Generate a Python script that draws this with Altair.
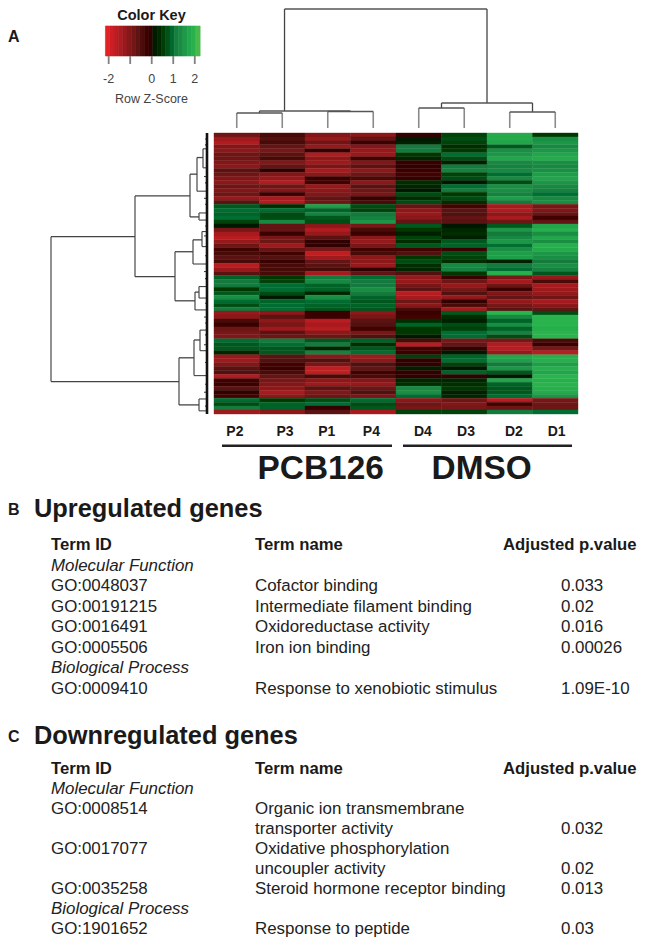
import altair as alt
import pandas as pd

samples = ["P2", "P3", "P1", "P4", "D4", "D3", "D2", "D1"]

block_a = [
 [-0.9,-0.5,-1.1,-1.2,-0.2,0.5,1.7,0.4],[-1.4,-0.6,-1.3,-0.8,0.0,0.6,1.7,1.3],[-1.6,-0.5,-0.9,-0.3,0.1,0.5,1.6,1.4],
 [-1.1,-0.8,-1.3,-1.1,1.0,0.3,0.7,1.2],[-1.2,-1.0,-0.1,-1.3,1.0,0.4,1.3,1.4],[-0.9,-0.7,-1.6,-1.3,0.4,0.9,1.4,1.6],
 [-0.9,-0.5,-1.2,-0.4,0.2,0.6,1.6,1.7],[-1.1,-1.1,-1.4,-1.1,-0.2,0.1,1.2,1.3],[-1.2,-0.8,-1.0,-0.7,-0.1,1.0,1.1,1.2],
 [-0.7,-0.1,-1.5,-1.2,-0.2,1.1,1.2,1.3],[-0.9,-1.1,-1.2,-0.9,-0.4,0.5,0.9,1.5],[-1.1,-1.3,-0.3,-0.5,-0.2,0.6,1.2,1.6],
 [-1.2,-1.6,-0.4,-1.2,0.3,0.0,0.6,1.4],[-0.9,-0.9,-1.3,-0.7,0.2,0.9,1.3,1.2],[-1.1,-1.1,-1.2,-0.9,0.0,1.0,1.3,1.1],
 [-0.9,-0.3,-1.1,-1.0,0.6,0.4,1.1,0.9],[-1.3,-1.5,-0.8,-0.3,0.3,0.6,1.5,1.2],[-0.7,-1.6,-0.9,-0.5,0.6,0.3,1.0,1.3],
]
block_b = [
 [0.7,0.3,1.5,0.6,-0.8,-0.4,-1.5,-1.0],[0.9,0.9,0.8,0.5,-1.2,-0.7,-1.6,-1.1],[0.8,0.6,1.1,1.0,-1.3,-0.6,-1.2,-0.8],
 [0.9,0.6,0.7,1.1,-1.2,-0.8,-1.5,-0.4],[0.5,1.2,0.6,1.4,-0.8,-0.7,-0.9,-0.8],
]
block_c = [
 [0.0,-0.8,-1.2,-1.0,0.7,0.0,0.7,1.6],[-1.0,-0.8,-1.6,-0.5,0.4,0.2,1.4,1.8],[-1.5,-0.3,-1.3,-0.3,0.1,0.3,1.0,1.3],
 [-1.7,-1.0,-0.7,-1.2,0.5,0.1,1.2,1.6],[-1.3,-0.9,-0.1,-1.3,0.3,0.7,1.4,1.3],[-0.9,-1.4,-0.1,-1.0,0.7,0.8,0.9,1.8],
 [-0.4,-0.8,-1.0,-0.4,-0.4,-0.3,1.3,1.7],[-0.5,-0.4,-1.8,-0.5,-0.6,0.6,1.5,1.4],[-0.7,-0.6,-1.4,-1.2,0.4,0.5,1.5,1.3],
 [-0.5,-0.3,-0.8,-1.2,0.6,0.3,0.1,1.0],[-1.7,-0.5,-0.7,-1.3,0.3,1.2,1.0,1.3],[-1.3,-0.5,-0.5,-0.1,0.2,1.1,0.9,1.1],
 [-0.7,-0.5,-1.5,-0.8,-0.6,0.4,1.8,0.7],
]
block_d = [
 [0.8,0.4,1.0,0.9,-1.3,-0.3,-1.0,-1.3],[1.0,0.5,1.2,1.0,-1.3,-0.9,-1.5,-0.5],[1.0,0.9,0.8,1.0,-1.0,-1.3,-0.9,-1.5],
 [0.4,0.9,0.8,1.3,-0.7,-1.0,-0.3,-1.4],[0.7,0.6,0.2,1.0,-1.7,-0.6,-1.1,-1.3],[1.3,0.0,1.3,0.8,-1.5,-1.3,-0.8,-0.9],
 [0.9,0.8,0.9,0.7,-0.9,-0.1,-1.3,-1.5],[0.6,0.9,0.8,0.8,-1.2,-0.5,-1.0,-1.2],[1.0,0.9,0.7,0.7,-0.5,-1.5,-0.7,-0.8],
]
block_e = [
 [-1.3,-1.2,-0.3,-1.2,-0.3,0.7,1.9,0.6],[-1.2,-0.7,-0.3,-1.0,-0.4,0.3,1.2,1.9],[-0.5,-1.2,-1.7,-0.7,0.3,0.1,0.8,1.9],
 [-0.3,-1.0,-1.5,-0.6,0.8,0.6,1.3,1.9],[-0.9,-1.4,-1.7,-0.4,0.4,0.5,0.8,1.8],[-1.0,-0.7,-1.2,-1.0,0.4,0.9,1.1,1.9],
 [-1.1,-0.9,-0.9,-0.6,0.0,0.9,0.6,1.9],
]
block_f = [
 [0.9,1.0,0.7,0.8,-0.5,-1.0,-1.0,-0.5],[0.7,0.9,1.0,0.3,-1.7,-0.8,-1.6,-0.3],[0.7,0.7,0.2,0.7,-0.4,-0.2,-1.7,-1.0],
 [0.2,0.7,1.1,0.9,-0.3,0.0,-1.3,-1.7],
]
block_g = [
 [-1.3,-0.7,-1.2,-1.4,0.5,0.8,1.6,1.8],[-1.4,-0.6,-0.6,-1.2,-0.1,0.9,1.5,1.8],[-1.1,-0.4,-1.0,-0.6,-0.1,0.5,1.0,1.5],
 [-0.7,-0.3,-1.8,-0.8,0.1,0.0,1.4,1.8],[-0.6,-0.5,-1.8,-0.4,-0.1,0.8,0.7,1.6],[-1.6,-0.8,-0.5,-0.5,-0.1,-0.1,0.0,1.9],
 [-0.4,-1.0,-1.2,-1.1,0.2,0.2,1.6,1.8],[-0.3,-1.1,-1.4,-1.3,0.3,0.3,0.8,1.9],[-0.7,-1.2,-0.7,-0.9,1.2,0.4,0.7,1.8],
 [-0.1,-1.5,-1.1,-0.6,1.3,0.1,0.7,1.7],[-0.4,-1.2,-0.9,-1.0,0.9,0.2,0.9,1.4],
]
block_h = [
 [0.9,0.4,0.6,0.9,-1.2,-0.9,-1.7,-1.0],[0.6,0.8,0.9,0.6,-0.9,-1.1,-0.4,-0.9],[1.0,0.8,-0.2,0.7,-1.0,-1.0,-0.9,-0.9],
 [-1.4,-1.2,-0.7,-1.5,0.5,0.5,1.0,0.9],
]

# column dendrogram: sample-axis position and merge height
col_stems_x = [0.5, 1.5, 2.5, 3.5, 4.5, 5.5, 6.5, 7.5]
col_stems_top = [15, 15, 16.5, 16.5, 20, 20, 16, 16]
col_bar_left = [0.5, 2.5, 1.0, 4.5, 6.5, 5.0, 1.55]
col_bar_right = [1.5, 3.5, 3.0, 5.5, 7.5, 7.0, 6.0]
col_bar_h = [15, 16.5, 17, 20, 16, 25, 119]
col_link_x = [1.0, 3.0, 5.0, 7.0, 1.55, 6.0]
col_link_lo = [15, 16.5, 20, 16, 17, 25]
col_link_hi = [17, 17, 25, 25, 119, 119]

# row dendrogram: depth and row position
row_node_d = [156, 72, 28, 17, 32, 10, 8, 4, 14, 12, 5, 8, 13, 8, 7]
row_node_r0 = [26.2, 15.9, 56.8, 10.4, 30, 6.2, 20.2, 4, 27, 40.2, 24.9, 38.8, 52.3, 67.2, 49.8]
row_node_r1 = [62.8, 36.3, 68.7, 21.2, 42.4, 14.7, 22, 8.8, 33.1, 44.7, 28.7, 41.7, 61.3, 70.2, 55]
row_link_child = [72, 28, 17, 32, 10, 8, 4, 14, 12, 5, 8, 13, 8, 7]
row_link_parent = [156, 156, 72, 72, 17, 17, 10, 32, 32, 14, 12, 28, 28, 13]
row_link_r = [26.2, 62.8, 15.9, 36.3, 10.4, 21.2, 6.2, 30, 42.4, 27, 40.2, 56.8, 68.7, 52.3]
row_leaf_d = [10, 8, 8, 4, 4, 14, 12, 5, 5, 8, 8, 13, 8, 8, 7, 7,
              2, 2, 3, 2, 3, 2, 2, 3, 2, 3, 2, 2, 3, 2, 2, 3, 2, 2, 3, 2]
row_leaf_r = [14.7, 20.2, 22, 4, 8.8, 33.1, 44.7, 24.9, 28.7, 38.8, 41.7, 61.3, 67.2, 70.2, 49.8, 55,
              1.5, 3, 11, 12.6, 16.5, 18, 23.5, 26, 31, 35, 36.8, 43, 46.5, 48, 51, 53.5, 58, 63.5, 65.5, 69]

key_bins = [-2.15, -1.95, -1.75, -1.55, -1.35, -1.15, -0.95, -0.75, -0.55, -0.35, -0.15, 0.05,
            0.25, 0.45, 0.65, 0.85, 1.05, 1.25, 1.45, 1.65, 1.85, 2.05]
key_ticks = [-2, -1, 0, 1, 2]
key_labels = ["-2", "0", "1", "2"]
key_label_z = [-2, 0, 1, 2]

group_names = ["PCB126", "DMSO"]

b_ids = ["Term ID", "", "GO:0048037", "GO:00191215", "GO:0016491", "GO:0005506", "", "GO:0009410"]
b_terms = ["Term name", "", "Cofactor binding", "Intermediate filament binding", "Oxidoreductase activity",
           "Iron ion binding", "", "Response to xenobiotic stimulus"]
b_pvals = ["", "", "0.033", "0.02", "0.016", "0.00026", "", "1.09E-10"]
b_sections = ["", "Molecular Function", "", "", "", "", "Biological Process", ""]

c_ids = ["Term ID", "", "GO:0008514", "", "GO:0017077", "", "GO:0035258", "", "GO:1901652"]
c_terms = ["Term name", "", "Organic ion transmembrane", "transporter activity", "Oxidative phosphorylation",
           "uncoupler activity", "Steroid hormone receptor binding", "", "Response to peptide"]
c_pvals = ["", "", "", "0.032", "", "0.02", "0.013", "", "0.03"]
c_sections = ["", "Molecular Function", "", "", "", "", "", "Biological Process", ""]

FONT = "Liberation Sans"
COLOR_SCALE = alt.Scale(domain=[-2.15, -1.3, -0.6, 0, 1, 1.6, 1.95, 2.15],
                        range=["#e02126", "#96191c", "#501210", "#000000", "#157a3d", "#22a54b", "#2cb64f", "#5ebb4a"])

all_rows = block_a + block_b + block_c + block_d + block_e + block_f + block_g + block_h
heat = pd.DataFrame([{"row": r, "sample": s, "z": v}
                     for r, vals in enumerate(all_rows) for s, v in zip(samples, vals)])

n_rows = len(all_rows)
ROW_SCALE = alt.Scale(domain=[0, n_rows], range=[125, 406])
DEPTH_SCALE = alt.Scale(domain=[0, 160], range=[199, 39])
COL_SCALE = alt.Scale(domain=[0, 8], range=[206, 570])
H_SCALE = alt.Scale(domain=[0, 119], range=[120, 1])
KEY_SCALE = alt.Scale(domain=[-2.17, 2.15], range=[97, 190])


def xq(f, scale):
    return alt.X(f, type="quantitative", scale=scale, axis=None)


def yq(f, scale):
    return alt.Y(f, type="quantitative", scale=scale, axis=None)


heatmap = alt.Chart(heat).mark_rect(strokeWidth=0.4).encode(
    x=alt.X("sample:N", sort=samples, axis=None,
            scale=alt.Scale(domain=samples, range=[206, 570], padding=0)),
    y=alt.Y("row:O", axis=None,
            scale=alt.Scale(domain=list(range(n_rows)), range=[125, 406], padding=0)),
    color=alt.Color("z:Q", scale=COLOR_SCALE, legend=None),
    stroke=alt.Stroke("z:Q", scale=COLOR_SCALE, legend=None),
)

col_stems = alt.Chart(pd.DataFrame({"x": col_stems_x, "top": col_stems_top, "lo": [0] * 8})).mark_rule(
    color="#8a8a8a", strokeWidth=1.6).encode(x=xq("x", COL_SCALE), y=yq("lo", H_SCALE), y2="top")
col_links = alt.Chart(pd.DataFrame({"x": col_link_x, "lo": col_link_lo, "hi": col_link_hi})).mark_rule(
    color="#444444", strokeWidth=1.3).encode(x=xq("x", COL_SCALE), y=yq("lo", H_SCALE), y2="hi")
col_bars = alt.Chart(pd.DataFrame({"l": col_bar_left, "r": col_bar_right, "h": col_bar_h})).mark_rule(
    color="#555555", strokeWidth=1.3).encode(x=xq("l", COL_SCALE), x2="r", y=yq("h", H_SCALE))

row_nodes = alt.Chart(pd.DataFrame({"d": row_node_d, "a": row_node_r0, "b": row_node_r1})).mark_rule(
    color="#555555", strokeWidth=1.3).encode(x=xq("d", DEPTH_SCALE), y=yq("a", ROW_SCALE), y2="b")
row_links = alt.Chart(pd.DataFrame({"c": row_link_child, "p": row_link_parent, "r": row_link_r})).mark_rule(
    color="#444444", strokeWidth=1.3).encode(x=xq("c", DEPTH_SCALE), x2="p", y=yq("r", ROW_SCALE))
row_leaves = alt.Chart(pd.DataFrame({"d": row_leaf_d, "o": [0] * len(row_leaf_d), "r": row_leaf_r})).mark_rule(
    color="#444444", strokeWidth=1.1).encode(x=xq("d", DEPTH_SCALE), x2="o", y=yq("r", ROW_SCALE))
row_base = alt.Chart(pd.DataFrame({"d": [0], "a": [0], "b": [n_rows]})).mark_rule(
    color="#111111", strokeWidth=2.6).encode(x=xq("d", DEPTH_SCALE), y=yq("a", ROW_SCALE), y2="b")

key_df = pd.DataFrame({"z": key_bins, "z2": [v + 0.2 for v in key_bins]})
key_rect = alt.Chart(key_df).mark_rect(strokeWidth=0.6).encode(
    x=xq("z", KEY_SCALE), x2="z2",
    y=alt.value(18), y2=alt.value(48),
    color=alt.Color("z:Q", scale=COLOR_SCALE, legend=None),
    stroke=alt.Stroke("z:Q", scale=COLOR_SCALE, legend=None),
)
key_tick = alt.Chart(pd.DataFrame({"z": key_ticks})).mark_rule(color="#808080", strokeWidth=1.8).encode(
    x=xq("z", KEY_SCALE), y=alt.value(48), y2=alt.value(56))
key_text = alt.Chart(pd.DataFrame({"t": key_labels, "z": key_label_z})).mark_text(
    font=FONT, fontSize=12.5, color="#444444").encode(x=xq("z", KEY_SCALE), y=alt.value(71), text="t:N")


def label(text, x, y, size, weight="normal", align="left", color="#1a1a1a", style="normal"):
    return alt.Chart(pd.DataFrame({"t": [text]})).mark_text(
        font=FONT, fontSize=size, fontWeight=weight, fontStyle=style, align=align, color=color,
        baseline="middle").encode(x=alt.value(x), y=alt.value(y), text="t:N")


sample_label_x = [0.46, 1.56, 2.48, 3.46, 4.59, 5.54, 6.59, 7.53]
sample_labels = alt.Chart(pd.DataFrame({"t": samples, "x": sample_label_x})).mark_text(
    font=FONT, fontSize=14, fontWeight="bold", color="#1a1a1a", baseline="middle").encode(
    x=xq("x", COL_SCALE), y=alt.value(424), text="t:N")

group_rules = [
    alt.Chart(pd.DataFrame({"t": [name]})).mark_rule(color="#222222", strokeWidth=2.6).encode(
        x=alt.value(a), x2=alt.value(b), y=alt.value(437.7))
    for name, a, b in zip(group_names, [214, 395], [384, 564])
]


def table(ids, terms, pvals, sections, y0, y1):
    n = len(ids)
    scale = alt.Scale(domain=[0, n - 1], range=[y0, y1])
    out = []

    def col(vals, x, keep, **kw):
        df = pd.DataFrame({"t": vals, "r": range(n)})
        df = df[df.t != ""]
        df = df[[keep(i) for i in df.r]]
        return alt.Chart(df).mark_text(font=FONT, align="left", baseline="middle", **kw).encode(
            x=alt.value(x), y=yq("r", scale), text="t:N")

    body = dict(fontSize=16.9, color="#222222")
    head = dict(fontSize=16.7, fontWeight="bold", color="#1a1a1a")
    out.append(col(ids, 43, lambda i: i == 0, **head))
    out.append(col(terms, 247, lambda i: i == 0, **head))
    out.append(col(ids, 43, lambda i: i > 0, **body))
    out.append(col(terms, 247, lambda i: i > 0, **body))
    out.append(col(pvals, 553, lambda i: True, **body))
    out.append(col(sections, 43, lambda i: True, fontStyle="italic", **body))
    return out


layers = [
    heatmap, col_stems, col_links, col_bars, row_nodes, row_links, row_leaves, row_base,
    key_rect, key_tick, key_text, sample_labels, *group_rules,
    label("A", 0, 29, 16, "bold"),
    label("Color Key", 143.5, 8, 14.5, "bold", "center"),
    label("Row Z-Score", 143.5, 91, 12.5, "normal", "center", "#444444"),
    label("PCB126", 312.7, 461, 33.4, "bold", "center"),
    label("DMSO", 473.7, 461, 33.4, "bold", "center"),
    label("B", 0, 502, 16, "bold"),
    label("Upregulated genes", 26, 501, 25.4, "bold"),
    label("Adjusted p.value", 495, 537, 16.7, "bold"),
    *table(b_ids, b_terms, b_pvals, b_sections, 537, 680.5),
    label("C", 0, 729, 16, "bold"),
    label("Downregulated genes", 26, 728, 25.4, "bold"),
    label("Adjusted p.value", 495, 761, 16.7, "bold"),
    *table(c_ids, c_terms, c_pvals, c_sections, 761, 921),
]

chart = alt.layer(*layers).resolve_scale(
    x="independent", y="independent", color="independent", stroke="independent"
).properties(
    width=629, height=930, padding=0,
    autosize=alt.AutoSizeParams(type="none", contains="content"),
).configure_view(stroke=None)

chart.save("out.html", embed_options={"renderer": "svg", "actions": False})
